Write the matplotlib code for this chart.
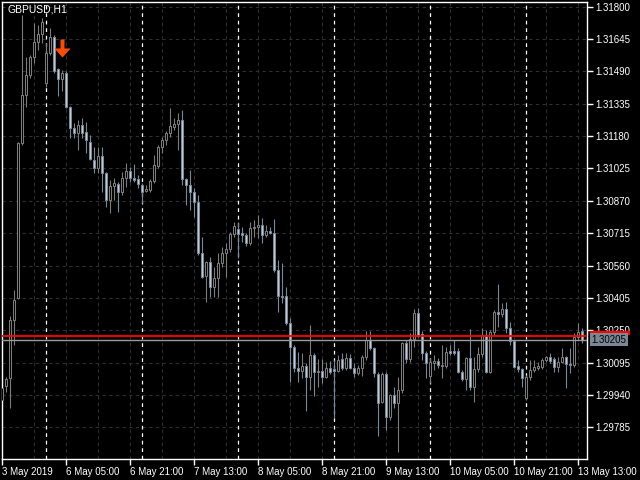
import numpy as np
import matplotlib
matplotlib.use("Agg")
import matplotlib.pyplot as plt
from matplotlib.patches import Rectangle
from matplotlib.path import Path
from matplotlib.transforms import blended_transform_factory

SYMBOL = "GBPUSD,H1"

# GBPUSD H1, 3 May 2019 13:00 -> 13 May 2019 14:00
opens = [1.29915, 1.29983, 1.30021, 1.30299, 1.30404, 1.31147, 1.31377, 1.31473, 1.31559, 1.31631,
         1.31669, 1.31434, 1.31578, 1.31655, 1.31501, 1.31453, 1.31482, 1.31319, 1.31219, 1.31195,
         1.31233, 1.31199, 1.31152, 1.31065, 1.31027, 1.31085, 1.31003, 1.30874, 1.30941, 1.30950,
         1.30912, 1.30979, 1.31013, 1.30979, 1.30974, 1.30946, 1.30917, 1.30922, 1.30965, 1.31037,
         1.31128, 1.31161, 1.31195, 1.31224, 1.31238, 1.31257, 1.30974, 1.30946, 1.30912, 1.30864,
         1.30620, 1.30510, 1.30577, 1.30457, 1.30500, 1.30572, 1.30620, 1.30639, 1.30711, 1.30735,
         1.30716, 1.30706, 1.30668, 1.30740, 1.30744, 1.30754, 1.30706, 1.30725, 1.30716, 1.30538,
         1.30414, 1.30414, 1.30284, 1.30169, 1.30069, 1.30054, 1.30078, 1.30026, 1.30131, 1.30050,
         1.30054, 1.30026, 1.30069, 1.30064, 1.30054, 1.30112, 1.30069, 1.30117, 1.30069, 1.30045,
         1.30069, 1.30122, 1.30203, 1.30165, 1.30040, 1.29906, 1.30040, 1.29834, 1.29939, 1.29901,
         1.29963, 1.30189, 1.30112, 1.30208, 1.30332, 1.30232, 1.30141, 1.30030, 1.30093, 1.30102,
         1.30078, 1.30078, 1.30150, 1.30150, 1.30150, 1.30050, 1.30016, 1.30117, 1.29978, 1.30064,
         1.30136, 1.30227, 1.30050, 1.30241, 1.30337, 1.30328, 1.30352, 1.30260, 1.30198, 1.30078,
         1.30064, 1.29925, 1.30026, 1.30059, 1.30069, 1.30074, 1.30107, 1.30122, 1.30112, 1.30074,
         1.30098, 1.30122, 1.30088, 1.30083, 1.30217, 1.30246]
highs = [1.29987, 1.30026, 1.30318, 1.30443, 1.31152, 1.31760, 1.31559, 1.31568, 1.31722, 1.31712,
         1.31746, 1.31626, 1.31698, 1.31664, 1.31506, 1.31497, 1.31492, 1.31324, 1.31243, 1.31257,
         1.31267, 1.31247, 1.31185, 1.31128, 1.31128, 1.31128, 1.31008, 1.30970, 1.30979, 1.30960,
         1.31008, 1.31051, 1.31032, 1.31046, 1.30994, 1.30955, 1.30946, 1.30974, 1.31089, 1.31137,
         1.31176, 1.31204, 1.31314, 1.31267, 1.31291, 1.31305, 1.30979, 1.31018, 1.30931, 1.30898,
         1.30696, 1.30581, 1.30601, 1.30553, 1.30620, 1.30648, 1.30668, 1.30720, 1.30768, 1.30768,
         1.30744, 1.30716, 1.30768, 1.30778, 1.30802, 1.30788, 1.30754, 1.30744, 1.30783, 1.30586,
         1.30572, 1.30457, 1.30308, 1.30179, 1.30145, 1.30141, 1.30093, 1.30275, 1.30141, 1.30112,
         1.30112, 1.30098, 1.30102, 1.30107, 1.30131, 1.30141, 1.30141, 1.30136, 1.30093, 1.30083,
         1.30131, 1.30246, 1.30246, 1.30169, 1.30050, 1.30050, 1.30050, 1.29944, 1.29978, 1.30026,
         1.30193, 1.30203, 1.30237, 1.30352, 1.30356, 1.30246, 1.30150, 1.30117, 1.30131, 1.30117,
         1.30179, 1.30169, 1.30179, 1.30203, 1.30165, 1.30059, 1.30122, 1.30256, 1.30122, 1.30169,
         1.30260, 1.30251, 1.30251, 1.30347, 1.30471, 1.30380, 1.30385, 1.30289, 1.30203, 1.30107,
         1.30069, 1.30035, 1.30107, 1.30107, 1.30098, 1.30117, 1.30126, 1.30141, 1.30122, 1.30122,
         1.30165, 1.30126, 1.30165, 1.30237, 1.30284, 1.30260]
lows = [1.29906, 1.29954, 1.29877, 1.30179, 1.30399, 1.31137, 1.31319, 1.31458, 1.31530, 1.31592,
        1.31626, 1.31415, 1.31568, 1.31482, 1.31372, 1.31396, 1.31314, 1.31171, 1.31171, 1.31113,
        1.31171, 1.31099, 1.31065, 1.31003, 1.31003, 1.30912, 1.30840, 1.30811, 1.30874, 1.30816,
        1.30898, 1.30936, 1.30960, 1.30960, 1.30931, 1.30859, 1.30912, 1.30912, 1.30955, 1.31027,
        1.31099, 1.31137, 1.31176, 1.31209, 1.31113, 1.30946, 1.30850, 1.30826, 1.30792, 1.30610,
        1.30500, 1.30385, 1.30409, 1.30409, 1.30409, 1.30553, 1.30505, 1.30625, 1.30696, 1.30596,
        1.30672, 1.30653, 1.30658, 1.30696, 1.30692, 1.30668, 1.30696, 1.30711, 1.30529, 1.30337,
        1.30380, 1.30275, 1.30002, 1.30050, 1.30002, 1.30021, 1.29863, 1.29963, 1.29935, 1.29978,
        1.29997, 1.30021, 1.30040, 1.29829, 1.30050, 1.30059, 1.30059, 1.30064, 1.30026, 1.30035,
        1.30030, 1.30107, 1.30155, 1.30026, 1.29743, 1.29901, 1.29772, 1.29820, 1.29877, 1.29666,
        1.29949, 1.30093, 1.30098, 1.30169, 1.30217, 1.30107, 1.30021, 1.29997, 1.30059, 1.30069,
        1.30021, 1.30069, 1.30131, 1.30131, 1.30045, 1.30006, 1.29963, 1.29963, 1.29906, 1.30050,
        1.30122, 1.30045, 1.30045, 1.30227, 1.30265, 1.30313, 1.30237, 1.30179, 1.30069, 1.30050,
        1.29978, 1.29915, 1.30011, 1.30050, 1.30059, 1.30064, 1.30098, 1.30093, 1.30050, 1.30050,
        1.30093, 1.29973, 1.30045, 1.30074, 1.30203, 1.30189]
closes = [1.29973, 1.30016, 1.30299, 1.30395, 1.31147, 1.31377, 1.31473, 1.31559, 1.31631, 1.31669,
          1.31727, 1.31578, 1.31655, 1.31492, 1.31453, 1.31482, 1.31319, 1.31219, 1.31195, 1.31233,
          1.31195, 1.31161, 1.31070, 1.31027, 1.31085, 1.31003, 1.30874, 1.30941, 1.30955, 1.30912,
          1.30979, 1.31013, 1.30979, 1.30970, 1.30950, 1.30912, 1.30926, 1.30965, 1.31041, 1.31128,
          1.31161, 1.31195, 1.31228, 1.31238, 1.31257, 1.30974, 1.30946, 1.30912, 1.30864, 1.30620,
          1.30505, 1.30577, 1.30457, 1.30500, 1.30572, 1.30620, 1.30639, 1.30711, 1.30749, 1.30711,
          1.30706, 1.30668, 1.30740, 1.30744, 1.30754, 1.30706, 1.30725, 1.30716, 1.30538, 1.30414,
          1.30409, 1.30284, 1.30169, 1.30069, 1.30054, 1.30078, 1.30026, 1.30131, 1.30050, 1.30054,
          1.30026, 1.30069, 1.30050, 1.30054, 1.30107, 1.30069, 1.30117, 1.30069, 1.30045, 1.30069,
          1.30122, 1.30203, 1.30165, 1.30045, 1.29901, 1.30040, 1.29834, 1.29939, 1.29901, 1.29963,
          1.30189, 1.30112, 1.30208, 1.30332, 1.30222, 1.30141, 1.30093, 1.30098, 1.30102, 1.30083,
          1.30083, 1.30145, 1.30141, 1.30141, 1.30050, 1.30016, 1.30117, 1.29978, 1.30064, 1.30136,
          1.30227, 1.30050, 1.30241, 1.30337, 1.30328, 1.30352, 1.30260, 1.30198, 1.30074, 1.30064,
          1.30021, 1.30026, 1.30059, 1.30074, 1.30078, 1.30107, 1.30122, 1.30102, 1.30074, 1.30098,
          1.30122, 1.30088, 1.30083, 1.30217, 1.30241, 1.30205]

x_label_bars = [0, 16, 32, 48, 64, 80, 96, 112, 128, 144]
x_labels = ["3 May 2019", "6 May 05:00", "6 May 21:00", "7 May 13:00", "8 May 05:00",
            "8 May 21:00", "9 May 13:00", "10 May 05:00", "10 May 21:00", "13 May 13:00"]
day_start_bars = [11, 35, 59, 83, 107, 131]
price_ticks = [1.31800, 1.31645, 1.31490, 1.31335, 1.31180, 1.31025, 1.30870,
               1.30715, 1.30560, 1.30405, 1.30250, 1.30095, 1.29940, 1.29785]
bid_price = 1.30205
ask_price = 1.30222
sell_bar = 15
sell_price = 1.31602

BULL_EDGE = "#7c7c7c"
BEAR_FACE = "#c8ccd0"
BEAR_EDGE = "#778899"
GRID = "#2e2e2e"
FS = 7

plt.rcParams["font.family"] = ["Liberation Sans", "DejaVu Sans"]

fig = plt.figure(figsize=(6.4, 4.8), dpi=100, facecolor="black")
ax = fig.add_axes([2 / 640, 21 / 480, 584.7 / 640, 457 / 480], facecolor="black")

n = len(opens)
ax.set_xlim(-0.075, 146.1)
ax.set_ylim(1.296329, 1.318225)

# grid
for b in range(8, n + 8, 8):
    ax.axvline(b, color=GRID, lw=0.8, ls=(0, (3, 3)), zorder=0)
for p in price_ticks:
    ax.axhline(p, color=GRID, lw=0.8, ls=(0, (3, 3)), zorder=0)
# day separators
for b in day_start_bars:
    ax.axvline(b, color="white", lw=0.9, ls=(0, (3, 3)), zorder=1)

# candles
for i in range(n):
    o, h, l, c = opens[i], highs[i], lows[i], closes[i]
    bull = c >= o
    edge = BULL_EDGE if bull else BEAR_EDGE
    face = "black" if bull else BEAR_FACE
    ax.vlines(i, l, h, color=edge, lw=0.8, zorder=2)
    body = max(abs(c - o), 0.00002)
    ax.add_patch(Rectangle((i - 0.26, min(o, c)), 0.52, body,
                           facecolor=face, edgecolor=edge, lw=0.75, zorder=3))

# bid / ask lines
ax.axhline(ask_price, color="red", lw=1.3, zorder=4)
ax.axhline(bid_price, color="#9a9a9a", lw=1.0, zorder=4)

# sell arrow
arrow = Path([(-2, 9), (2, 9), (2, 0), (8, 0), (0, -9), (-8, 0), (-2, 0), (-2, 9)],
             [Path.MOVETO] + [Path.LINETO] * 6 + [Path.CLOSEPOLY])
ax.plot([sell_bar], [sell_price], marker=arrow, markersize=13, color="#ff4a00",
        markeredgewidth=0, zorder=5)

# axes / ticks
for s in ax.spines.values():
    s.set_color("white")
    s.set_linewidth(1)
ax.yaxis.tick_right()
ax.set_yticks(price_ticks)
ax.set_yticklabels([f"{p:.5f}" for p in price_ticks])
ax.set_xticks(x_label_bars)
ax.set_xticklabels(x_labels, ha="left")
ax.tick_params(axis="both", colors="white", length=4, width=1, labelsize=FS,
               labelcolor="white")
ax.tick_params(axis="y", pad=2)
ax.tick_params(axis="x", pad=1.5)

ax.text(5 / 584.7, 1 - 7 / 457, SYMBOL, transform=ax.transAxes, color="white",
        fontsize=7.5, ha="left", va="center")

# price labels on the scale: ask (red, mostly hidden) and bid box
trans = blended_transform_factory(ax.transAxes, ax.transData)
ax.add_patch(Rectangle((1 + 3.3 / 584.7, bid_price + 0.00025), 39 / 584.7, 0.00015,
                       transform=trans, color="red", clip_on=False, zorder=6))
ax.annotate(f"{bid_price:.5f}", xy=(1.0, bid_price), xycoords=("axes fraction", "data"),
            xytext=(4.5, 0), textcoords="offset pixels", color="black", fontsize=FS,
            va="center", ha="left", annotation_clip=False, zorder=7,
            bbox=dict(boxstyle="square,pad=0.15", fc="#7a8896", ec="none"))

fig.savefig("out.png", dpi=100, facecolor="black")
